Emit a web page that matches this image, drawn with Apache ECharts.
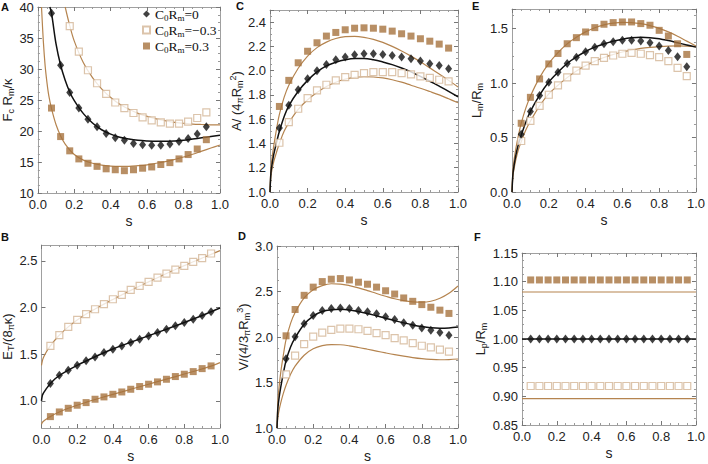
<!DOCTYPE html>
<html><head><meta charset="utf-8">
<script src="https://cdn.jsdelivr.net/npm/echarts@6/dist/echarts.min.js"></script>
<style>html,body{margin:0;padding:0;background:#fff}#c{width:708px;height:464px}</style>
</head><body><div id="c"></div>
<script>
// ---------- data ----------
const sPts = [0.05,0.1,0.15,0.2,0.25,0.3,0.35,0.4,0.45,0.5,0.55,0.6,0.65,0.7,0.75,0.8,0.85,0.9,0.95];
const sPtsA = [0.075,0.125,0.175,0.225,0.275,0.325,0.375,0.425,0.475,0.525,0.575,0.625,0.675,0.725,0.775,0.825,0.875,0.925];
const sPtsANeg = [0.175,0.225,0.275,0.325,0.375,0.425,0.475,0.525,0.575,0.625,0.675,0.725,0.775,0.825,0.875,0.925];
const sCurve = [0,0.005,0.01,0.02,0.035,0.05,0.075,0.1,0.15,0.2,0.25,0.3,0.35,0.4,0.45,0.5,0.55,0.6,0.65,0.7,0.75,0.8,0.85,0.9,0.95,1.0];

// Panel A: Fc Rm / kappa
const aZero = [39.0,30.6,26.2,23.7,21.9,20.7,19.6,18.9,18.5,18.0,17.8,17.7,17.7,17.9,18.3,18.8,19.5,20.7];
const aNeg = [36.9,32.8,29.8,27.7,26.0,24.6,23.7,22.9,22.2,21.7,21.4,21.2,21.2,21.5,22.1,23.0];
const aPos = [23.7,19.1,16.8,15.5,14.8,14.3,13.9,13.75,13.6,13.75,14.0,14.2,14.6,14.9,15.5,16.2,17.1,18.6];
const aZeroLineS = [0.066,0.075,0.1,0.125,0.15,0.175,0.2,0.25,0.3,0.35,0.4,0.45,0.5,0.55,0.6,0.65,0.7,0.75,0.8,0.85,0.9,0.95,1.0];
const aZeroLine = [40,39.0,34.0,30.6,28.2,26.3,24.9,22.8,21.3,20.2,19.5,19.0,18.7,18.5,18.4,18.35,18.35,18.4,18.5,18.7,18.9,19.1,19.3];
const aNegLineS = [0.15,0.175,0.2,0.25,0.3,0.35,0.4,0.45,0.5,0.55,0.6,0.65,0.7,0.75,0.8,0.85,0.9,0.95,1.0];
const aNegLine = [40,37.0,34.5,31.0,28.6,26.8,25.4,24.3,23.5,22.85,22.35,21.95,21.65,21.4,21.25,21.12,21.05,21.0,21.0];
const aPosLineS = [0.02,0.03,0.04,0.05,0.06,0.075,0.1,0.125,0.15,0.2,0.25,0.3,0.35,0.4,0.45,0.5,0.55,0.6,0.65,0.7,0.75,0.8,0.85,0.9,0.95,1.0];
const aPosLine = [40,34.5,30.5,27.8,25.7,23.6,21.0,19.2,17.9,16.2,15.3,14.8,14.5,14.35,14.3,14.3,14.4,14.55,14.8,15.05,15.4,15.8,16.25,16.75,17.25,17.75];

// Panel C: A/(4 pi Rm^2)
const cPos = [1.705,1.92,2.065,2.16,2.23,2.285,2.315,2.337,2.35,2.353,2.35,2.342,2.326,2.304,2.285,2.263,2.243,2.219,2.186];
const cZero = [1.527,1.714,1.843,1.933,2.0,2.051,2.09,2.112,2.131,2.139,2.139,2.134,2.125,2.112,2.098,2.079,2.057,2.043,2.016];
const cNeg = [1.406,1.576,1.686,1.774,1.837,1.884,1.92,1.947,1.966,1.98,1.988,1.988,1.988,1.98,1.969,1.953,1.94,1.925,1.911];
const cPosLine = [1.0,1.2,1.27,1.38,1.52,1.64,1.78,1.88,2.02,2.12,2.19,2.235,2.265,2.28,2.283,2.275,2.258,2.233,2.2,2.162,2.12,2.073,2.023,1.972,1.92,1.866];
const cZeroLine = [1.0,1.16,1.22,1.31,1.41,1.5,1.62,1.71,1.83,1.92,1.99,2.04,2.07,2.09,2.1,2.1,2.09,2.072,2.05,2.022,1.99,1.953,1.913,1.872,1.83,1.785];
const cNegLine = [1.0,1.13,1.18,1.25,1.33,1.4,1.5,1.57,1.68,1.76,1.82,1.87,1.905,1.93,1.945,1.95,1.948,1.94,1.925,1.905,1.88,1.855,1.828,1.8,1.768,1.735];

// Panel E: Lm/Rm
const ePos = [0.631,0.869,1.038,1.176,1.272,1.361,1.417,1.469,1.509,1.54,1.555,1.561,1.561,1.546,1.531,1.484,1.432,1.361,1.263];
const eZero = [0.53,0.739,0.887,1.007,1.1,1.18,1.238,1.287,1.33,1.361,1.38,1.392,1.392,1.386,1.37,1.34,1.3,1.241,1.149];
const eNeg = [0.468,0.653,0.791,0.893,0.979,1.053,1.115,1.161,1.201,1.232,1.253,1.269,1.278,1.269,1.257,1.238,1.201,1.14,1.063];
const ePosLine = [0,0.2,0.28,0.39,0.52,0.63,0.77,0.88,1.05,1.18,1.28,1.36,1.42,1.47,1.508,1.535,1.55,1.557,1.555,1.545,1.527,1.502,1.47,1.43,1.385,1.34];
const eZeroLine = [0,0.165,0.23,0.33,0.44,0.52,0.64,0.74,0.89,1.01,1.1,1.18,1.24,1.29,1.33,1.36,1.385,1.403,1.415,1.42,1.417,1.407,1.39,1.37,1.35,1.33];
const eNegLine = [0,0.145,0.2,0.29,0.39,0.46,0.57,0.65,0.79,0.9,0.98,1.05,1.11,1.16,1.2,1.235,1.262,1.285,1.303,1.318,1.328,1.335,1.34,1.342,1.34,1.335];

// Panel B: E_T/(8 pi kappa)
const bNeg = [1.589,1.704,1.793,1.868,1.929,1.982,2.036,2.089,2.136,2.189,2.232,2.275,2.321,2.364,2.407,2.446,2.489,2.529,2.579];
const bZero = [1.186,1.275,1.329,1.382,1.429,1.471,1.518,1.554,1.589,1.625,1.661,1.696,1.732,1.768,1.804,1.839,1.875,1.914,1.954];
const bPos = [0.832,0.882,0.921,0.954,0.982,1.018,1.043,1.071,1.096,1.125,1.154,1.179,1.204,1.232,1.261,1.286,1.314,1.346,1.375];
const bNegLine = [1.38,1.43,1.46,1.5,1.55,1.589,1.65,1.704,1.793,1.866,1.93,1.985,2.037,2.087,2.136,2.184,2.23,2.275,2.32,2.364,2.407,2.449,2.49,2.53,2.57,2.61];
const bZeroLine = [1.0,1.06,1.08,1.11,1.15,1.186,1.235,1.272,1.329,1.381,1.428,1.473,1.516,1.556,1.593,1.628,1.663,1.698,1.733,1.768,1.804,1.84,1.877,1.915,1.955,1.995];
const bPosLine = [0.75,0.77,0.78,0.795,0.815,0.832,0.86,0.882,0.921,0.954,0.985,1.015,1.043,1.07,1.097,1.125,1.152,1.179,1.206,1.233,1.26,1.288,1.315,1.343,1.372,1.41];

// Panel D: V/(4/3 pi Rm^3)
const dPos = [2.013,2.302,2.458,2.548,2.609,2.635,2.642,2.627,2.602,2.58,2.548,2.508,2.472,2.429,2.392,2.356,2.327,2.295,2.259];
const dZero = [1.76,2.002,2.146,2.237,2.291,2.313,2.32,2.313,2.291,2.277,2.255,2.222,2.193,2.157,2.128,2.099,2.074,2.049,2.02];
const dNeg = [1.59,1.796,1.922,2.005,2.049,2.078,2.092,2.092,2.085,2.067,2.042,2.02,1.987,1.962,1.933,1.904,1.886,1.861,1.839];
const dPosLine = [1.0,1.3,1.42,1.6,1.8,1.97,2.15,2.27,2.43,2.52,2.565,2.585,2.582,2.565,2.54,2.51,2.478,2.448,2.42,2.4,2.387,2.383,2.393,2.425,2.48,2.56];
const dZeroLine = [1.0,1.22,1.31,1.44,1.6,1.74,1.89,1.99,2.14,2.23,2.28,2.3,2.305,2.298,2.28,2.258,2.233,2.207,2.18,2.155,2.133,2.115,2.102,2.097,2.1,2.11];
const dNegLine = [1.0,1.12,1.18,1.27,1.38,1.47,1.59,1.68,1.8,1.87,1.905,1.917,1.915,1.903,1.885,1.865,1.845,1.825,1.806,1.789,1.774,1.762,1.754,1.75,1.752,1.758];

// Panel F: Lp/Rm
const fPos = [1.103,1.103,1.103,1.103,1.103,1.103,1.103,1.103,1.103,1.103,1.103,1.103,1.103,1.103,1.103,1.103,1.103,1.103,1.103];
const fZero = [1.0,1.0,1.0,1.0,1.0,1.0,1.0,1.0,1.0,1.0,1.0,1.0,1.0,1.0,1.0,1.0,1.0,1.0,1.0];
const fNeg = [0.918,0.918,0.918,0.918,0.918,0.918,0.918,0.918,0.918,0.918,0.918,0.918,0.918,0.918,0.918,0.918,0.918,0.918,0.918];
const fLineS = [0,1];
const fPosLine = [1.082,1.082];
const fZeroLine = [1.0,1.0];
const fNegLine = [0.896,0.896];

const legendNames = ['C0Rm=0','C0Rm=-0.3','C0Rm=0.3'];

// ---------- styles ----------
const BLACK = '#111111', BROWN_LINE = '#b5844f', BROWN_FILL = '#a6733f', OPEN_EDGE = '#d3b596';
const SANS = 'Liberation Sans';
const rich = {
  n: {fontSize: 13, fontFamily: SANS, color: '#222', lineHeight: 16},
  s: {fontSize: 9, fontFamily: SANS, color: '#222', lineHeight: 6, verticalAlign: 'bottom'},
  p: {fontSize: 9, fontFamily: SANS, color: '#222', lineHeight: 6, verticalAlign: 'top'},
  g: {fontSize: 9, fontFamily: SANS, color: '#222', lineHeight: 8, verticalAlign: 'bottom'}
};

const zip = (xs, ys) => xs.map((x, i) => [x, ys[i]]);

const panels = [
  {letter:'A', lpos:[1,0], grid:{left:34, top:7, width:186, height:186}, ymin:10, ymax:40, yint:5, dec:0,
   title:'{n|F}{s|c}{n| R}{s|m}{n|/κ}', nameGap:15,
   lines:[[aNegLineS,aNegLine,'n'],[aPosLineS,aPosLine,'p'],[aZeroLineS,aZeroLine,'z']],
   pts:[[sPtsANeg,aNeg,'n'],[sPtsA,aPos,'p'],[sPtsA,aZero,'z']]},
  {letter:'C', lpos:[236,-1], grid:{left:270, top:10, width:188, height:182}, ymin:1.0, ymax:2.5, yint:0.2, dec:1, hideMax:true,
   title:'{n|A/ (4}{g|π}{n|R}{s|m}{p|2}{n|)}', nameGap:14,
   lines:[[sCurve,cNegLine,'n'],[sCurve,cPosLine,'p'],[sCurve,cZeroLine,'z']],
   pts:[[sPts,cNeg,'n'],[sPts,cPos,'p'],[sPts,cZero,'z']]},
  {letter:'E', lpos:[472,-1], grid:{left:512, top:9, width:185, height:183}, ymin:0, ymax:1.68, yint:0.5, dec:1, hideMax:true,
   title:'{n|L}{s|m}{n|/R}{s|m}', nameGap:28,
   lines:[[sCurve,eNegLine,'n'],[sCurve,ePosLine,'p'],[sCurve,eZeroLine,'z']],
   pts:[[sPts,eNeg,'n'],[sPts,ePos,'p'],[sPts,eZero,'z']]},
  {letter:'B', lpos:[1,230], grid:{left:33, top:245, width:187, height:183}, ymin:0.71, ymax:2.67, custom:[1.0,1.5,2.0,2.5], dec:1,
   title:'{n|E}{s|T}{n|/(8}{g|π}{n|κ)}', nameGap:15,
   lines:[[sCurve,bNegLine,'n'],[sCurve,bPosLine,'p'],[sCurve,bZeroLine,'z']],
   pts:[[sPts,bNeg,'n'],[sPts,bPos,'p'],[sPts,bZero,'z']]},
  {letter:'D', lpos:[238,229], grid:{left:277, top:246, width:181, height:184}, ymin:1.0, ymax:3.0, yint:0.5, dec:1,
   title:'{n|V/(4/3}{g|π}{n|R}{s|m}{p|3}{n|)}', nameGap:16,
   lines:[[sCurve,dNegLine,'n'],[sCurve,dPosLine,'p'],[sCurve,dZeroLine,'z']],
   pts:[[sPts,dNeg,'n'],[sPts,dPos,'p'],[sPts,dZero,'z']]},
  {letter:'F', lpos:[474,230], grid:{left:522, top:253, width:175, height:172}, ymin:0.85, ymax:1.15, yint:0.05, dec:2,
   title:'{n|L}{s|p}{n|/R}{s|m}', nameGap:16,
   lines:[[fLineS,fNegLine,'n'],[fLineS,fPosLine,'p'],[fLineS,fZeroLine,'z']],
   pts:[[sPts,fNeg,'n'],[sPts,fPos,'p'],[sPts,fZero,'z']]}
];

const grid = [], xAxis = [], yAxis = [], series = [], title = [];
const frameLine = {show:true, onZero:false, lineStyle:{color:'#a0a0a0', width:1}};
const tickStyle = {show:true, inside:true, length:4, lineStyle:{color:'#777', width:1}};
const minorStyle = {show:true, splitNumber:4, length:2, lineStyle:{color:'#999', width:1}};

panels.forEach((p, i) => {
  grid.push(Object.assign({show:false, containLabel:false}, p.grid));
  title.push({text:p.letter, left:p.lpos[0], top:p.lpos[1], padding:0,
    textStyle:{fontSize:11, fontWeight:'bold', fontFamily:SANS, color:'#111', lineHeight:13}});
  // bottom x
  xAxis.push({type:'value', gridIndex:i, position:'bottom', min:0, max:1, interval:0.2,
    axisLine:frameLine, axisTick:tickStyle, minorTick:minorStyle, splitLine:{show:false},
    axisLabel:{show:true, margin:5, color:'#222', fontSize:13, fontFamily:SANS, formatter:v=>v.toFixed(1)},
    name:'s', nameLocation:'middle', nameGap:21, nameTextStyle:{fontSize:14, fontFamily:SANS, color:'#222'}});
  // top x (frame)
  xAxis.push({type:'value', gridIndex:i, position:'top', min:0, max:1, interval:0.2,
    axisLine:frameLine, axisTick:tickStyle, minorTick:minorStyle, splitLine:{show:false}, axisLabel:{show:false}});
  const yBase = {type:'value', gridIndex:i, min:p.ymin, max:p.ymax, splitLine:{show:false}, axisLine:frameLine};
  if (p.custom) {
    yAxis.push(Object.assign({}, yBase, {position:'left',
      axisTick:Object.assign({}, tickStyle, {customValues:p.custom}),
      axisLabel:{show:true, margin:4, color:'#222', fontSize:13, fontFamily:SANS, customValues:p.custom, formatter:v=>v.toFixed(p.dec)},
      name:p.title, nameLocation:'middle', nameGap:p.nameGap, nameTextStyle:{rich:rich}}));
    yAxis.push(Object.assign({}, yBase, {position:'right',
      axisTick:Object.assign({}, tickStyle, {customValues:p.custom}), axisLabel:{show:false}}));
  } else {
    yAxis.push(Object.assign({}, yBase, {position:'left', interval:p.yint,
      axisTick:tickStyle, minorTick:minorStyle,
      axisLabel:{show:true, margin:4, color:'#222', fontSize:13, fontFamily:SANS, showMaxLabel: !p.hideMax, formatter:v=>v.toFixed(p.dec)},
      name:p.title, nameLocation:'middle', nameGap:p.nameGap, nameTextStyle:{rich:rich}}));
    yAxis.push(Object.assign({}, yBase, {position:'right', interval:p.yint,
      axisTick:tickStyle, minorTick:minorStyle, axisLabel:{show:false}}));
  }
  p.lines.forEach(([xs, ys, k]) => {
    series.push({type:'line', xAxisIndex:2*i, yAxisIndex:2*i, data:zip(xs, ys), showSymbol:false, symbol:'none',
      smooth:0.35, clip:true, silent:true, z:2,
      lineStyle:{color: k==='z' ? BLACK : BROWN_LINE, width: k==='z' ? 1.5 : 1.2}});
  });
  p.pts.forEach(([xs, ys, k]) => {
    const nm = k==='z' ? legendNames[0] : (k==='n' ? legendNames[1] : legendNames[2]);
    const s = {type:'scatter', xAxisIndex:2*i, yAxisIndex:2*i, data:zip(xs, ys), silent:true, z:3,
      name: i===0 ? nm : nm + ' ' + p.letter};
    if (k==='z') { s.symbol='diamond'; s.symbolSize=[7,9]; s.itemStyle={color:BLACK}; }
    else if (k==='p') { s.symbol='rect'; s.symbolSize=7; s.itemStyle={color:BROWN_FILL}; }
    else { s.symbol='rect'; s.symbolSize=7; s.itemStyle={color:'#ffffff', borderColor:OPEN_EDGE, borderWidth:1.2}; }
    series.push(s);
  });
});

const legRich = {
  t: {fontSize:13.5, fontFamily:'Liberation Serif', color:'#111', lineHeight:16},
  u: {fontSize:9, fontFamily:'Liberation Serif', color:'#111', lineHeight:7, verticalAlign:'bottom'}
};
const legendLabel = {'C0Rm=0':'{t|C}{u|0}{t|R}{u|m}{t|=0}', 'C0Rm=-0.3':'{t|C}{u|0}{t|R}{u|m}{t|=−0.3}', 'C0Rm=0.3':'{t|C}{u|0}{t|R}{u|m}{t|=0.3}'};

const option = {
  animation:false,
  backgroundColor:'#ffffff',
  title: title,
  grid: grid,
  xAxis: xAxis,
  yAxis: yAxis,
  legend: {show:true, orient:'vertical', left:142, top:7, padding:0, itemWidth:7, itemHeight:7, itemGap:1,
    selectedMode:false,
    data:[{name:legendNames[0], icon:'diamond'},{name:legendNames[1], icon:'rect'},{name:legendNames[2], icon:'rect'}],
    formatter: n => legendLabel[n], textStyle:{rich:legRich}},
  series: series
};

const chart = echarts.init(document.getElementById('c'), null, {renderer:'svg'});
chart.setOption(option);
</script>
</body></html>
